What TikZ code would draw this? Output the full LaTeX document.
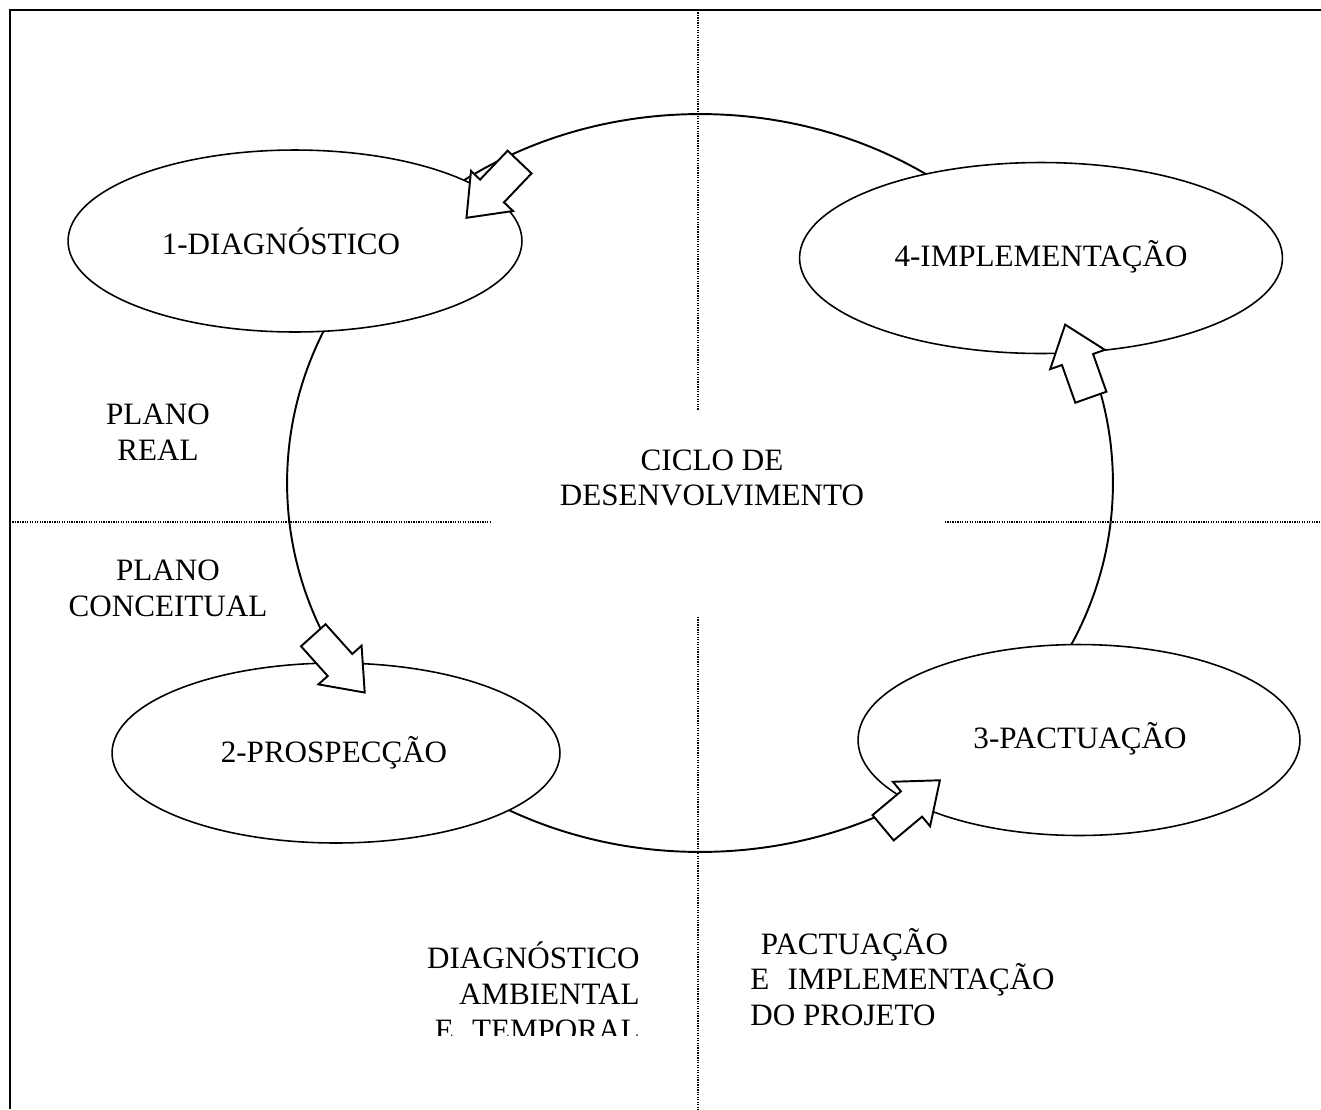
\documentclass[tikz,border=0pt]{standalone}
\usepackage{fontspec}
\setmainfont{Liberation Serif}
\usetikzlibrary{shapes.geometric}
\begin{document}
\begin{tikzpicture}[x=0.02cm,y=-0.02cm,
  txt/.style={font=\fontsize{17.7}{20.4}\selectfont, inner sep=0pt, align=center},
  stage/.style={draw, ellipse, line width=0.9pt, fill=white, inner sep=0pt},
  divider/.style={line width=0.6pt, dash pattern=on 0.7pt off 0.7pt},
  arrowbox/.style={draw, line width=1.1pt, fill=white, line join=miter},
  pics/blockarrow/.style={code={
    \path[arrowbox] (-#1,-16.5) -- (0,-16.5) -- (0,-29) -- (37,0)
      -- (0,29) -- (0,16.5) -- (-#1,16.5) -- cycle;}}]
\useasboundingbox (0,0) rectangle (1321,1109);

% frame (open at right and bottom)
\draw[line width=1.4pt] (10,1109) -- (10,10) -- (1321,10);

% quadrant dividers
\draw[divider] (698,10) -- (698,410);
\draw[divider] (698,617) -- (698,1109);
\draw[divider] (10,522) -- (492,522);
\draw[divider] (945,522) -- (1321,522);

% development cycle
\draw[line width=1.1pt] (700,483) ellipse [x radius=8.26cm, y radius=7.38cm];

\node[txt] (cycle) at (712,478) {CICLO DE\\DESENVOLVIMENTO};

% stages
\node[stage, minimum width=9.08cm, minimum height=3.64cm] (diag) at (295,241) {};
\node[stage, minimum width=9.66cm, minimum height=3.82cm] (impl) at (1041,258) {};
\node[stage, minimum width=8.96cm, minimum height=3.60cm] (prosp) at (336,753) {};
\node[stage, minimum width=8.84cm, minimum height=3.82cm] (pact) at (1079,740) {};

\node[txt] (diagtxt) at (281,241) {1-DIAGNÓSTICO};
\node[txt] (impltxt) at (1041,257) {4-IMPLEMENTAÇÃO};
\node[txt] (prosptxt) at (334,753) {2-PROSPECÇÃO};
\node[txt] (pacttxt) at (1080,739) {3-PACTUAÇÃO};

% block arrows along the cycle
\pic[rotate=226.4] at (492,191) {blockarrow=40};
\pic[rotate=109.5] at (1077.5,359.5) {blockarrow=40};
\pic[rotate=-48.1] at (340,665) {blockarrow=40};
\pic[rotate=39.9] at (911.5,804) {blockarrow=37};

% plane labels
\node[txt] (real) at (158,432) {PLANO\\REAL};
\node[txt] (conc) at (168,588) {PLANO\\CONCEITUAL};

% bottom captions
\begin{scope}
  \clip (300,900) rectangle (690,1035);
  \node[txt, align=right, anchor=east] (amb) at (640,991) {DIAGNÓSTICO\\AMBIENTAL\\E\hspace{6pt} TEMPORAL};
\end{scope}
\node[txt, align=left, anchor=west] (proj) at (750,977) {\hspace*{6pt}PACTUAÇÃO\\E\hspace{6pt} IMPLEMENTAÇÃO\\DO PROJETO};
\end{tikzpicture}
\end{document}
